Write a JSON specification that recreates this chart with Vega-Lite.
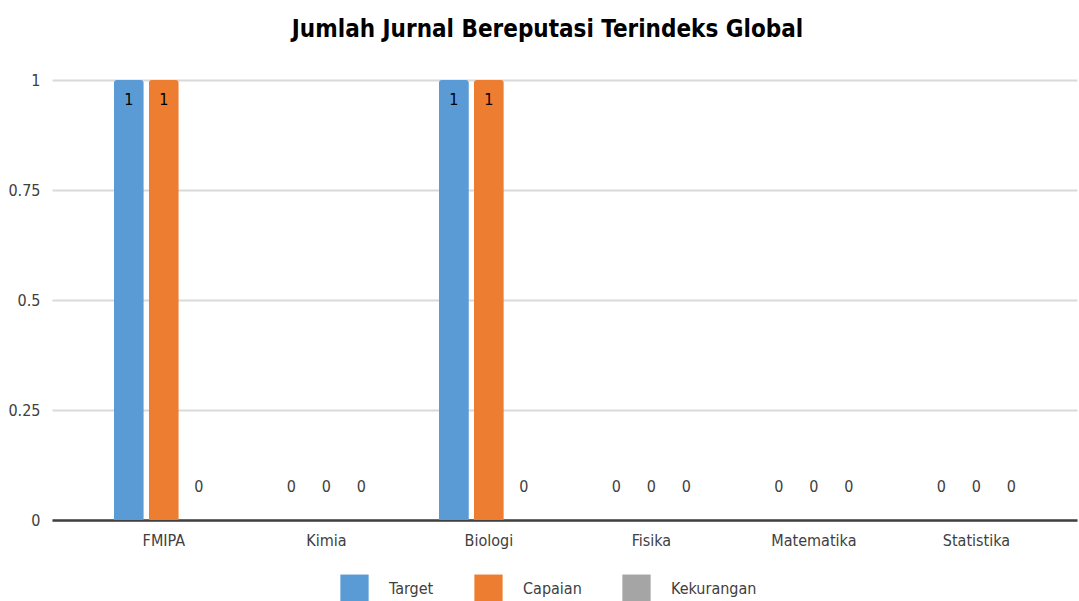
{
  "$schema": "https://vega.github.io/schema/vega-lite/v6.json",
  "width": 1025,
  "height": 440,
  "autosize": {"type": "none"},
  "padding": {"left": 52, "top": 80, "right": 2, "bottom": 81},
  "background": "white",
  "title": {
    "text": "Jumlah Jurnal Bereputasi Terindeks Global",
    "font": "DejaVu Sans Condensed",
    "fontSize": 24,
    "fontWeight": "bold",
    "color": "#000000",
    "anchor": "middle",
    "dx": -17,
    "offset": 30
  },
  "config": {
    "font": "DejaVu Sans Condensed",
    "view": {"stroke": null}
  },
  "data": {
    "values": [
      {"unit": "FMIPA", "series": "Target", "value": 1},
      {"unit": "FMIPA", "series": "Capaian", "value": 1},
      {"unit": "FMIPA", "series": "Kekurangan", "value": 0},
      {"unit": "Kimia", "series": "Target", "value": 0},
      {"unit": "Kimia", "series": "Capaian", "value": 0},
      {"unit": "Kimia", "series": "Kekurangan", "value": 0},
      {"unit": "Biologi", "series": "Target", "value": 1},
      {"unit": "Biologi", "series": "Capaian", "value": 1},
      {"unit": "Biologi", "series": "Kekurangan", "value": 0},
      {"unit": "Fisika", "series": "Target", "value": 0},
      {"unit": "Fisika", "series": "Capaian", "value": 0},
      {"unit": "Fisika", "series": "Kekurangan", "value": 0},
      {"unit": "Matematika", "series": "Target", "value": 0},
      {"unit": "Matematika", "series": "Capaian", "value": 0},
      {"unit": "Matematika", "series": "Kekurangan", "value": 0},
      {"unit": "Statistika", "series": "Target", "value": 0},
      {"unit": "Statistika", "series": "Capaian", "value": 0},
      {"unit": "Statistika", "series": "Kekurangan", "value": 0}
    ]
  },
  "encoding": {
    "x": {
      "field": "unit",
      "type": "nominal",
      "sort": null,
      "title": null,
      "scale": {"paddingInner": 0.385, "paddingOuter": 0.346, "align": 0.55},
      "axis": {
        "labelAngle": 0,
        "labelFontSize": 16,
        "labelColor": "#404040",
        "labelPadding": 12,
        "ticks": false,
        "domainColor": "#404040",
        "domainWidth": 2.5,
        "grid": false
      }
    },
    "xOffset": {
      "field": "series",
      "type": "nominal",
      "sort": ["Target", "Capaian", "Kekurangan"],
      "scale": {"paddingInner": 0.143, "paddingOuter": 0}
    },
    "y": {
      "field": "value",
      "type": "quantitative",
      "title": null,
      "scale": {"domain": [0, 1], "nice": false},
      "axis": {
        "values": [0, 0.25, 0.5, 0.75, 1],
        "format": ".2~g",
        "labelFontSize": 16,
        "labelColor": "#404040",
        "labelPadding": 12,
        "ticks": false,
        "domain": false,
        "gridColor": "#D9D9D9",
        "gridWidth": 2
      }
    }
  },
  "layer": [
    {
      "mark": {"type": "bar", "cornerRadiusTopLeft": 3, "cornerRadiusTopRight": 3},
      "encoding": {
        "color": {
          "field": "series",
          "type": "nominal",
          "sort": ["Target", "Capaian", "Kekurangan"],
          "scale": {
            "domain": ["Target", "Capaian", "Kekurangan"],
            "range": ["#5B9BD5", "#ED7D31", "#A5A5A5"]
          },
          "legend": {
            "title": null,
            "orient": "none",
            "direction": "horizontal",
            "legendX": 288,
            "legendY": 494,
            "symbolType": "square",
            "symbolSize": 800,
            "symbolStrokeWidth": 0,
            "symbolOpacity": 1,
            "labelFontSize": 16,
            "labelColor": "#404040",
            "labelOffset": 20,
            "columnPadding": 40
          }
        }
      }
    },
    {
      "transform": [{"filter": "datum.value == 1"}],
      "mark": {"type": "text", "dy": 20, "fontSize": 16, "color": "#000000"},
      "encoding": {"text": {"field": "value", "type": "quantitative"}}
    },
    {
      "transform": [{"filter": "datum.value == 0"}],
      "mark": {"type": "text", "dy": -33, "fontSize": 16, "color": "#404040"},
      "encoding": {"text": {"field": "value", "type": "quantitative"}}
    }
  ]
}
